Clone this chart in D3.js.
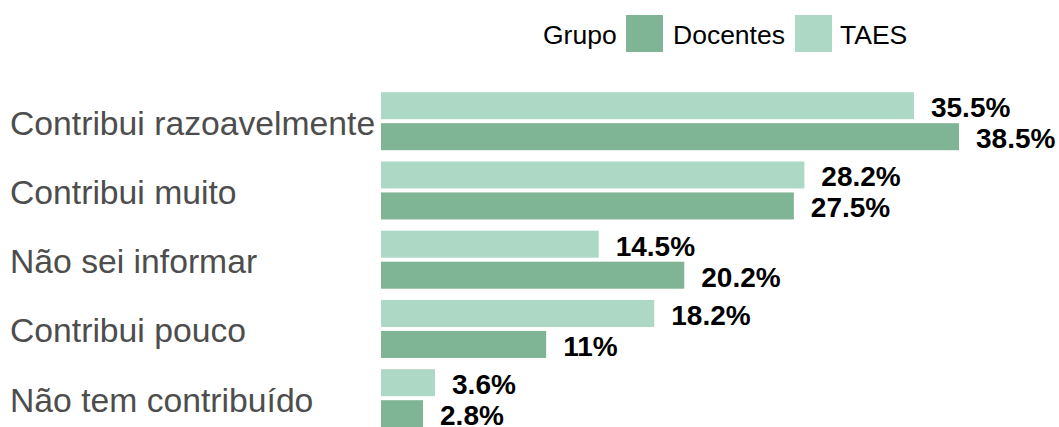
<!DOCTYPE html>
<html>
<head>
<meta charset="utf-8">
<script src="https://cdn.jsdelivr.net/npm/d3@7"></script>
<style>
  html, body { margin: 0; padding: 0; background: #fff; overflow: hidden; }
  svg { display: block; }
</style>
</head>
<body>
<svg id="chart" width="1059" height="427"></svg>
<script>
const categories = ["Contribui razoavelmente", "Contribui muito", "Não sei informar", "Contribui pouco", "Não tem contribuído"];
const groups = ["TAES", "Docentes"];
const taesValues = [35.5, 28.2, 14.5, 18.2, 3.6];
const docentesValues = [38.5, 27.5, 20.2, 11, 2.8];
const legendOrder = ["Docentes", "TAES"];
const legendTitle = "Grupo";

const colors = { "Docentes": "#7fb495", "TAES": "#acd8c5" };

const data = [];
categories.forEach((c, i) => {
  data.push({ cat: c, grp: "TAES", value: taesValues[i] });
  data.push({ cat: c, grp: "Docentes", value: docentesValues[i] });
});

const svg = d3.select("#chart");
const font = "Liberation Sans, Arial, sans-serif";

const x = d3.scaleLinear().domain([0, 38.5]).range([381, 959]);
const y = d3.scalePoint().domain(categories).range([121.2, 398.2]);
const inner = d3.scaleBand().domain(groups).range([-31, 31]);

// bars
svg.append("g").selectAll("rect").data(data).join("rect")
  .attr("x", x(0))
  .attr("y", d => y(d.cat) + inner(d.grp) + 2)
  .attr("width", d => x(d.value) - x(0))
  .attr("height", inner.bandwidth() - 4)
  .attr("fill", d => colors[d.grp]);

// value labels
svg.append("g").selectAll("text").data(data).join("text")
  .attr("x", d => x(d.value) + 17)
  .attr("y", d => y(d.cat) + inner(d.grp) + inner.bandwidth() / 2 + 11.5)
  .attr("font-family", font)
  .attr("font-weight", "bold")
  .attr("font-size", 28)
  .attr("fill", "#000")
  .text(d => d.value + "%");

// y axis (labels left-aligned)
const yAxis = d3.axisLeft(y).tickSize(0).tickPadding(0);
const ag = svg.append("g").attr("transform", "translate(10,0)").call(yAxis);
ag.select(".domain").remove();
ag.selectAll("text")
  .attr("text-anchor", "start")
  .attr("font-family", font)
  .attr("font-size", 33.7)
  .attr("fill", "#4d4d4d")
  .attr("dy", null)
  .attr("x", 0)
  .attr("y", 13);

// legend
const lg = svg.append("g");
lg.append("text").attr("x", 543).attr("y", 44).attr("font-family", font).attr("font-size", 26.5).attr("fill", "#000").text(legendTitle);
const legendX = [626, 795];
const legendTextX = [673, 840];
legendOrder.forEach((g, i) => {
  lg.append("rect").attr("x", legendX[i]).attr("y", 15).attr("width", 37).attr("height", 37).attr("fill", colors[g]);
  lg.append("text").attr("x", legendTextX[i]).attr("y", 44).attr("font-family", font).attr("font-size", 26.5).attr("fill", "#000").text(g);
});
</script>
</body>
</html>
